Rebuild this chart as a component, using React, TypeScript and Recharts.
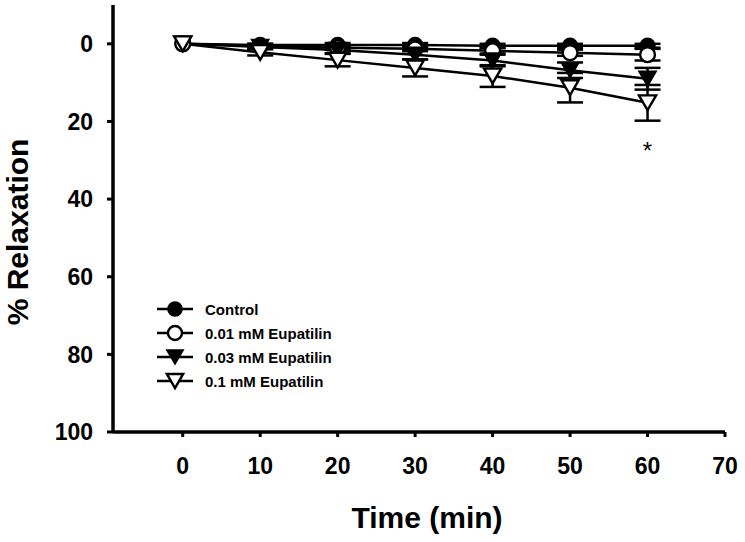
import React from 'react';
import { LineChart, Line, XAxis, YAxis, ErrorBar, Legend, ReferenceDot } from 'recharts';

const times = [0, 10, 20, 30, 40, 50, 60];
const control = [0, 0.3, 0.3, 0.3, 0.5, 0.5, 0.5];
const controlErr = [0, 0.3, 0.5, 0.5, 0.5, 0.5, 0.5];
const eup001 = [0, 0.5, 1.0, 1.3, 1.8, 2.3, 2.8];
const eup001Err = [0, 0.5, 0.5, 0.6, 0.7, 0.8, 1.5];
const eup003 = [0, 0.8, 1.6, 2.8, 4.3, 6.8, 9.0];
const eup003Err = [0, 0.5, 0.8, 1.2, 1.5, 2.0, 2.8];
const eup01 = [0, 2.2, 4.2, 6.2, 8.3, 11.3, 15.2];
const eup01Err = [0, 0.8, 1.6, 2.2, 2.8, 3.8, 4.6];

const xTicks = [0, 10, 20, 30, 40, 50, 60, 70];
const yTicks = [0, 20, 40, 60, 80, 100];
const sigMarks = [{ x: 60, y: 28, text: '*' }];

const seriesNames = ['Control', '0.01 mM Eupatilin', '0.03 mM Eupatilin', '0.1 mM Eupatilin'];
const seriesKeys = ['control', 'eup001', 'eup003', 'eup01'];
const seriesShapes = ['circleFilled', 'circleOpen', 'triFilled', 'triOpen'];

const data = times.map((t, i) => ({
  t,
  control: control[i], controlErr: controlErr[i],
  eup001: eup001[i], eup001Err: eup001Err[i],
  eup003: eup003[i], eup003Err: eup003Err[i],
  eup01: eup01[i], eup01Err: eup01Err[i],
}));

const FONT = '"Liberation Sans", Arial, sans-serif';

function Marker({ kind, cx, cy, s = 1 }: { kind: string; cx: number; cy: number; s?: number }) {
  if (cx == null || cy == null) return null;
  const r = 7.4 * s;
  if (kind === 'circleFilled')
    return <circle cx={cx} cy={cy} r={r} fill="#000" stroke="#000" strokeWidth={1.6} />;
  if (kind === 'circleOpen')
    return <circle cx={cx} cy={cy} r={r} fill="#fff" stroke="#000" strokeWidth={2.4} />;
  const w = 8.6 * s;
  const h = 7.4 * s;
  const pts = `${cx - w},${cy - h} ${cx + w},${cy - h} ${cx},${cy + h}`;
  if (kind === 'triFilled')
    return <polygon points={pts} fill="#000" stroke="#000" strokeWidth={1.6} strokeLinejoin="miter" />;
  return <polygon points={pts} fill="#fff" stroke="#000" strokeWidth={2.4} strokeLinejoin="miter" />;
}

const makeDot = (kind: string) => (props: any) => (
  <Marker key={`${kind}-${props.index}`} kind={kind} cx={props.cx} cy={props.cy} />
);

function LegendContent() {
  return (
    <div style={{ fontFamily: FONT, fontWeight: 'bold', fontSize: 15, color: '#000' }}>
      {seriesNames.map((n, i) => (
        <div key={n} style={{ display: 'flex', alignItems: 'center', height: 24 }}>
          <svg width={38} height={20} style={{ display: 'block' }}>
            <line x1={1} y1={10} x2={37} y2={10} stroke="#000" strokeWidth={2.5} />
            <Marker kind={seriesShapes[i]} cx={19} cy={10} s={0.95} />
          </svg>
          <span style={{ marginLeft: 11, whiteSpace: 'nowrap' }}>{n}</span>
        </div>
      ))}
    </div>
  );
}

export default function App() {
  return (
    <div style={{ position: 'absolute', left: 0, top: 0, width: 745, height: 542, background: '#fff' }}>
      <LineChart
        width={745}
        height={542}
        data={data}
        margin={{ top: 5, right: 20, left: 0, bottom: 0 }}
      >
        <XAxis
          dataKey="t"
          type="number"
          domain={[-9, 70]}
          ticks={xTicks}
          allowDataOverflow
          height={110}
          axisLine={{ stroke: '#000', strokeWidth: 3.5 }}
          tickLine={{ stroke: '#000', strokeWidth: 3 }}
          tickSize={5}
          tickMargin={21}
          tick={{ fill: '#000', fontSize: 23, fontWeight: 'bold', fontFamily: FONT }}
        />
        <YAxis
          type="number"
          domain={[-10, 100]}
          ticks={yTicks}
          reversed
          allowDataOverflow
          width={113}
          axisLine={{ stroke: '#000', strokeWidth: 3.5 }}
          tickLine={{ stroke: '#000', strokeWidth: 3 }}
          tickSize={6}
          tickMargin={14}
          tick={{ fill: '#000', fontSize: 23, fontWeight: 'bold', fontFamily: FONT }}
        />
        <Legend
          layout="vertical"
          align="center"
          verticalAlign="middle"
          content={<LegendContent />}
          wrapperStyle={{ left: 156, top: 297, width: 240 }}
        />
        {seriesKeys.map((k, i) => (
          <Line
            key={k}
            type="linear"
            dataKey={k}
            name={seriesNames[i]}
            stroke="#000"
            strokeWidth={2.5}
            isAnimationActive={false}
            dot={makeDot(seriesShapes[i])}
            activeDot={false}
          >
            <ErrorBar dataKey={`${k}Err`} direction="y" width={13} stroke="#000" strokeWidth={2.5} />
          </Line>
        ))}
        {sigMarks.map((m) => (
          <ReferenceDot
            key={`sig-${m.x}`}
            x={m.x}
            y={m.y}
            r={0}
            isFront
            shape={(p: any) => (
              <text x={p.cx} y={p.cy} textAnchor="middle" dominantBaseline="middle" fontSize={24} fontFamily={FONT} fill="#000">
                {m.text}
              </text>
            )}
          />
        ))}
        <text
          x={427}
          y={520}
          textAnchor="middle"
          dominantBaseline="middle"
          fontSize={30}
          fontWeight="bold"
          fontFamily={FONT}
          fill="#000"
        >
          Time (min)
        </text>
        <text
          x={20}
          y={232}
          textAnchor="middle"
          dominantBaseline="middle"
          fontSize={30}
          fontWeight="bold"
          fontFamily={FONT}
          fill="#000"
          transform="rotate(-90 20 232)"
        >
          % Relaxation
        </text>
      </LineChart>
    </div>
  );
}
